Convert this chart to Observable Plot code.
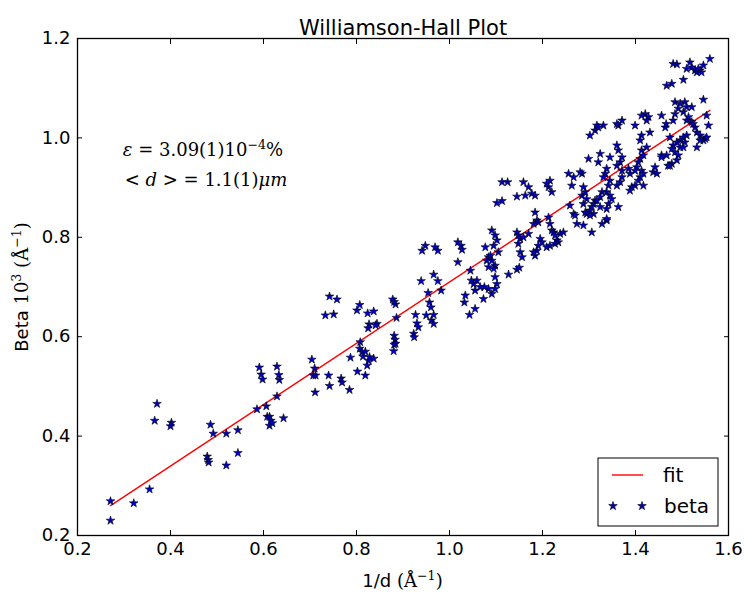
<!DOCTYPE html>
<html><head><meta charset="utf-8">
<script src="https://cdn.jsdelivr.net/npm/d3@7"></script>
<script src="https://cdn.jsdelivr.net/npm/@observablehq/plot@0.6"></script>
<style>
html,body{margin:0;padding:0;background:#fff;}
#chart{width:744px;height:596px;}
</style></head><body><div id="chart"></div>
<script>
const title = "Williamson-Hall Plot";
const xTicks = [0.2, 0.4, 0.6, 0.8, 1.0, 1.2, 1.4, 1.6];
const yTicks = [0.2, 0.4, 0.6, 0.8, 1.0, 1.2];
const fitIntercept = 0.093;
const fitSlope = 0.617;
const legendLabels = ["fit", "beta"];
const annotationX = 0.471;
const annotationY = [0.975, 0.914];

// [1/d, beta] pairs
const betaLow = [[0.271,0.269],[0.271,0.230],[0.321,0.265],[0.355,0.293],[0.366,0.431],[0.371,0.465],[0.402,0.427],[0.400,0.420],[0.486,0.423],[0.492,0.405],[0.479,0.359],[0.481,0.352],[0.482,0.347],[0.520,0.405],[0.520,0.341],[0.545,0.412],[0.545,0.366],[0.586,0.454],[0.606,0.460],[0.608,0.439],[0.613,0.439],[0.616,0.431],[0.613,0.421],[0.619,0.426],[0.629,0.480],[0.643,0.436],[0.591,0.538],[0.595,0.524],[0.598,0.514],[0.629,0.540],[0.633,0.523],[0.634,0.513]];
const betaMid = [[0.742,0.681],[0.758,0.675],[0.733,0.643],[0.751,0.645],[0.807,0.664],[0.801,0.653],[0.824,0.647],[0.837,0.651],[0.827,0.625],[0.825,0.617],[0.844,0.626],[0.841,0.623],[0.878,0.675],[0.884,0.665],[0.881,0.670],[0.886,0.638],[0.881,0.602],[0.883,0.594],[0.881,0.584],[0.880,0.571],[0.884,0.586],[0.927,0.644],[0.930,0.627],[0.933,0.619],[0.923,0.606],[0.924,0.599],[0.939,0.712],[0.975,0.712],[0.954,0.688],[0.957,0.669],[0.960,0.659],[0.950,0.643],[0.966,0.644],[0.961,0.633],[0.966,0.626],[0.982,0.693],[0.808,0.589],[0.807,0.576],[0.812,0.569],[0.819,0.570],[0.814,0.560],[0.826,0.552],[0.828,0.559],[0.837,0.556],[0.823,0.542],[0.787,0.558],[0.802,0.530],[0.819,0.522],[0.704,0.554],[0.710,0.536],[0.707,0.522],[0.712,0.522],[0.711,0.488],[0.740,0.522],[0.742,0.501],[0.767,0.516],[0.769,0.508],[0.785,0.493],[0.941,0.773],[0.948,0.783],[0.969,0.780],[0.975,0.773],[0.966,0.725]];
const betaUpperMid = [[1.018,0.790],[1.025,0.783],[1.027,0.775],[1.018,0.750],[1.091,0.814],[1.098,0.804],[1.102,0.794],[1.095,0.783],[1.077,0.780],[1.084,0.760],[1.088,0.763],[1.105,0.770],[1.091,0.753],[1.080,0.753],[1.184,0.850],[1.188,0.834],[1.191,0.830],[1.181,0.827],[1.152,0.797],[1.148,0.787],[1.152,0.770],[1.156,0.760],[1.148,0.804],[1.170,0.807],[1.145,0.810],[1.159,0.800],[1.195,0.797],[1.191,0.783],[1.188,0.773],[1.184,0.763],[1.181,0.770],[1.113,0.911],[1.125,0.911],[1.159,0.911],[1.170,0.901],[1.177,0.888],[1.184,0.884],[1.163,0.884],[1.145,0.882],[1.102,0.869],[1.113,0.873],[1.098,0.743],[1.095,0.737],[1.084,0.740],[1.127,0.725],[1.145,0.735],[1.150,0.739],[1.098,0.720],[1.102,0.706],[1.098,0.696],[1.091,0.686],[1.073,0.676],[1.084,0.696],[1.075,0.700],[1.066,0.700],[1.059,0.713],[1.052,0.706],[1.047,0.713],[1.045,0.733],[1.055,0.693],[1.034,0.683],[1.032,0.669],[1.055,0.656],[1.043,0.644],[1.216,0.827],[1.220,0.814],[1.224,0.810],[1.227,0.804],[1.238,0.807],[1.245,0.810],[1.231,0.794],[1.234,0.790],[1.227,0.787],[1.216,0.783],[1.209,0.780],[1.199,0.790],[1.216,0.914],[1.213,0.901],[1.220,0.891],[1.209,0.908],[1.213,0.840]];
const betaHigh = [[1.274,0.827],[1.288,0.824],[1.306,0.810],[1.328,0.827],[1.338,0.834],[1.560,1.159],[1.481,1.149],[1.489,1.148],[1.517,1.152],[1.521,1.142],[1.528,1.136],[1.532,1.132],[1.539,1.136],[1.546,1.146],[1.535,1.139],[1.542,1.132],[1.510,1.139],[1.467,1.105],[1.478,1.109],[1.503,1.117],[1.546,1.077],[1.485,1.072],[1.496,1.069],[1.506,1.072],[1.492,1.059],[1.510,1.062],[1.521,1.062],[1.503,1.052],[1.514,1.042],[1.510,1.035],[1.521,1.032],[1.553,1.045],[1.557,1.025],[1.550,0.998],[1.546,0.995],[1.553,1.001],[1.539,1.005],[1.532,1.011],[1.528,1.021],[1.524,1.028],[1.532,0.981],[1.539,0.995],[1.485,1.048],[1.464,1.021],[1.466,1.028],[1.481,1.035],[1.474,1.001],[1.510,1.005],[1.503,1.001],[1.496,0.995],[1.489,0.991],[1.481,0.985],[1.478,0.978],[1.485,0.971],[1.492,0.965],[1.489,0.955],[1.478,0.948],[1.467,0.965],[1.474,0.944],[1.456,0.965],[1.496,0.981],[1.506,0.991],[1.503,0.981],[1.421,1.048],[1.428,1.042],[1.413,1.045],[1.424,1.035],[1.456,1.045],[1.431,1.011],[1.413,1.005],[1.410,0.995],[1.399,1.025],[1.371,1.035],[1.363,1.025],[1.360,1.028],[1.331,1.025],[1.317,1.025],[1.313,1.015],[1.302,1.005],[1.320,1.021],[1.360,0.985],[1.363,0.975],[1.371,0.961],[1.345,0.961],[1.324,0.968],[1.299,0.958],[1.320,0.951],[1.413,0.975],[1.417,0.965],[1.410,0.958],[1.406,0.951],[1.403,0.941],[1.399,0.934],[1.413,0.934],[1.417,0.928],[1.410,0.921],[1.406,0.914],[1.399,0.904],[1.392,0.901],[1.388,0.894],[1.417,0.904],[1.442,0.941],[1.438,0.931],[1.446,0.928],[1.456,0.961],[1.470,0.944],[1.424,0.981],[1.367,0.951],[1.360,0.944],[1.371,0.934],[1.371,0.921],[1.367,0.911],[1.360,0.904],[1.388,0.928],[1.385,0.938],[1.338,0.938],[1.335,0.928],[1.331,0.921],[1.345,0.914],[1.342,0.904],[1.338,0.891],[1.345,0.884],[1.349,0.877],[1.342,0.867],[1.338,0.857],[1.328,0.891],[1.324,0.881],[1.313,0.874],[1.310,0.867],[1.306,0.861],[1.302,0.854],[1.295,0.847],[1.310,0.847],[1.317,0.874],[1.324,0.861],[1.363,0.861],[1.338,0.837],[1.285,0.928],[1.281,0.931],[1.267,0.921],[1.263,0.904],[1.256,0.928],[1.288,0.901],[1.285,0.884],[1.292,0.891],[1.288,0.867],[1.295,0.877],[1.267,0.847],[1.270,0.844],[1.292,0.850],[1.302,0.844],[1.259,0.864]];

const points = [...betaLow, ...betaMid, ...betaUpperMid, ...betaHigh].map(([x, y]) => ({x, y}));
const xExtent = d3.extent(points, d => d.x);
const fitLine = xExtent.map(x => ({x, y: fitIntercept + fitSlope * x}));

const starFill = "#0000c0";
const starStroke = "#000010";
const starR = 2.7;
const fitColor = "#ff0000";
const fmt = d3.format(".1f");

const plot = Plot.plot({
  width: 744, height: 596,
  marginLeft: 77, marginRight: 16, marginTop: 38, marginBottom: 61,
  style: {fontFamily: "'DejaVu Sans', sans-serif", fontSize: "18px", background: "#fff", color: "#000"},
  x: {domain: [0.2, 1.6]},
  y: {domain: [0.2, 1.2]},
  marks: [
    Plot.line(fitLine, {x: "x", y: "y", stroke: fitColor, strokeWidth: 1.4}),
    Plot.dot(points, {x: "x", y: "y", symbol: "star", r: starR, fill: starFill, stroke: starStroke, strokeWidth: 0.6}),
    Plot.axisX(xTicks, {anchor: "bottom", tickFormat: fmt, tickSize: -5, tickPadding: 12, label: null}),
    Plot.axisX(xTicks, {anchor: "top", tickSize: -5, fill: "none", label: null}),
    Plot.axisY(yTicks, {anchor: "left", tickFormat: fmt, tickSize: -5, tickPadding: 12, label: null}),
    Plot.axisY(yTicks, {anchor: "right", tickSize: -5, fill: "none", label: null}),
    Plot.frame({stroke: "#000", strokeWidth: 1.3}),
    Plot.text([title], {text: d => d, frameAnchor: "top", dy: -18, fontSize: 21})
  ]
});
document.getElementById("chart").appendChild(plot);

const svg = d3.select(plot);
const sx = plot.scale("x"), sy = plot.scale("y");
const serif = "'DejaVu Serif', serif";

function rich(sel, segs, size) {
  segs.forEach(s => {
    const t = sel.append("tspan").text(s.t);
    if (s.serif) t.attr("font-family", serif);
    if (s.italic) t.attr("font-style", "italic");
    if (s.sup) t.attr("font-size", size * 0.7).attr("dy", -size * 0.4);
    if (s.down) t.attr("dy", size * 0.4);
  });
}

// annotation
const annSize = 18;
const ann1 = svg.append("text").attr("text-anchor", "middle")
  .attr("x", sx.apply(annotationX)).attr("y", sy.apply(annotationY[0]) + 6)
  .attr("font-family", serif).attr("font-size", annSize);
rich(ann1, [{t: "ε", italic: true}, {t: " = 3.09(1)10"}, {t: "−4", sup: true}, {t: "%", down: true}], annSize);
const ann2 = svg.append("text").attr("text-anchor", "middle")
  .attr("x", sx.apply(annotationX) + 3).attr("y", sy.apply(annotationY[1]) + 6)
  .attr("font-family", serif).attr("font-size", annSize);
rich(ann2, [{t: "< "}, {t: "d", italic: true}, {t: " > = 1.1(1)"}, {t: "μm", italic: true}], annSize);

// axis labels
const xl = svg.append("text").attr("text-anchor", "middle")
  .attr("x", 402.5).attr("y", 587).attr("font-size", 18);
rich(xl, [{t: "1/d "}, {t: "(Å", serif: true}, {t: "−1", serif: true, sup: true}, {t: ")", serif: true, down: true}], 18);
const yl = svg.append("text").attr("text-anchor", "middle")
  .attr("transform", "translate(28,287) rotate(-90)").attr("font-size", 18);
rich(yl, [{t: "Beta "}, {t: "10", serif: true}, {t: "3", serif: true, sup: true}, {t: " (Å", serif: true, down: true}, {t: "−1", serif: true, sup: true}, {t: ")", serif: true, down: true}], 18);

// legend
const lg = svg.append("g").attr("text-anchor", "start");
lg.append("rect").attr("x", 598).attr("y", 458).attr("width", 120).attr("height", 68)
  .attr("fill", "#fff").attr("stroke", "#000").attr("stroke-width", 1);
lg.append("line").attr("x1", 612).attr("x2", 643).attr("y1", 475).attr("y2", 475)
  .attr("stroke", fitColor).attr("stroke-width", 1.4);
const starPath = d3.symbol(d3.symbolStar, Math.PI * starR * starR)();
[613, 642].forEach(cx => lg.append("path").attr("d", starPath)
  .attr("transform", `translate(${cx},506)`).attr("fill", starFill).attr("stroke", starStroke).attr("stroke-width", 0.6));
lg.append("text").attr("x", 663).attr("y", 482).attr("font-size", 20).attr("text-anchor", "start").text(legendLabels[0]);
lg.append("text").attr("x", 664).attr("y", 513).attr("font-size", 20).attr("text-anchor", "start").text(legendLabels[1]);
</script></body></html>
